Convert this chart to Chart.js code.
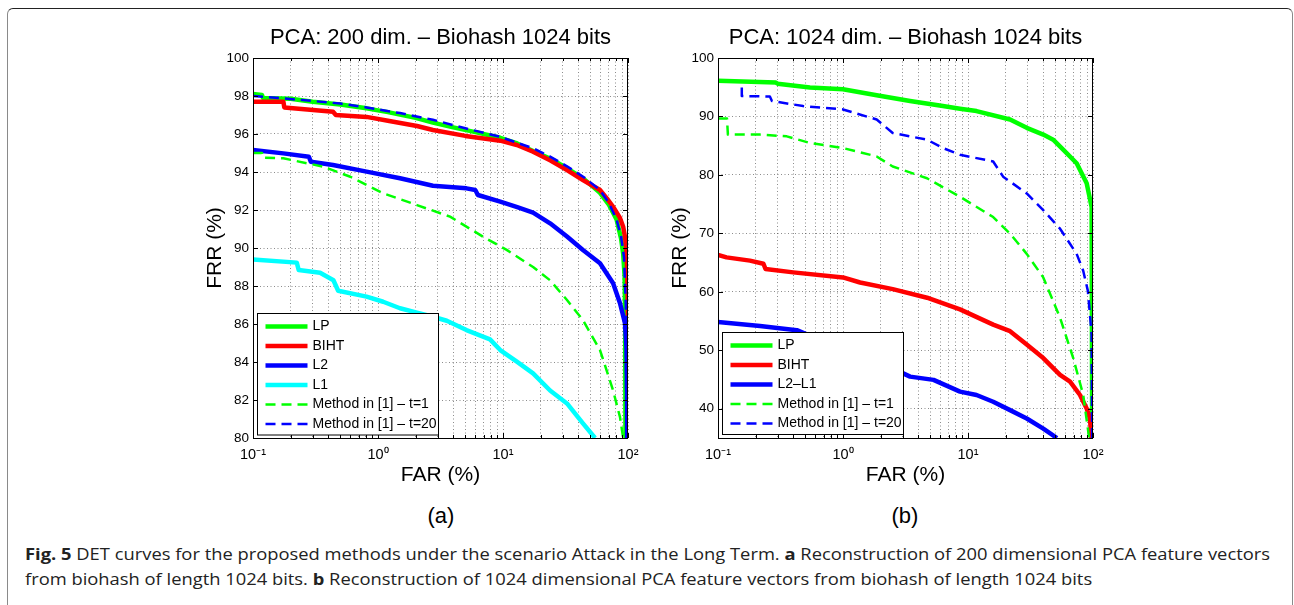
<!DOCTYPE html>
<html>
<head>
<meta charset="utf-8">
<script src="https://cdn.jsdelivr.net/npm/chart.js@4/dist/chart.umd.min.js"></script>
<style>
  body { margin: 0; background: #fff; width: 1294px; height: 605px; overflow: hidden; position: relative; }
  .frame { position: absolute; left: 7px; top: 8px; width: 1286px; height: 700px; box-sizing: border-box;
    border-top: 1.5px solid #222; border-left: 1px solid #8a8a8a; border-right: 1px solid #8a8a8a; border-radius: 6px 6px 0 0; }
  canvas { position: absolute; top: 18px; }
  .sub { position: absolute; top: 503px; width: 100px; text-align: center; font: 22px 'Liberation Sans', Arial, sans-serif; color: #000; }
  .cap { position: absolute; left: 25px; font: 15.5px 'Open Sans', 'Noto Sans', sans-serif; color: #222; white-space: nowrap; transform-origin: 0 50%; line-height: 25px; }
</style>
</head>
<body>
<div class="frame"></div>
<canvas id="chartA" width="470" height="470" style="left:180px"></canvas>
<canvas id="chartB" width="470" height="470" style="left:645px"></canvas>
<div class="sub" style="left:391px">(a)</div>
<div class="sub" style="left:855px">(b)</div>
<div class="cap" id="cap1" style="top:542px"><b>Fig. 5</b> DET curves for the proposed methods under the scenario Attack in the Long Term. <b>a</b> Reconstruction of 200 dimensional PCA feature vectors</div>
<div class="cap" id="cap2" style="top:567px">from biohash of length 1024 bits. <b>b</b> Reconstruction of 1024 dimensional PCA feature vectors from biohash of length 1024 bits</div>
<script>
// DET curves, FAR (%) vs FRR (%), points are [FAR, FRR]

const xTickValues = [0.1, 1, 10, 100];
const xTickText = ['10⁻¹', '10⁰', '10¹', '10²'];

const titleA = 'PCA: 200 dim. – Biohash 1024 bits';
const titleB = 'PCA: 1024 dim. – Biohash 1024 bits';

// panel (a)
const lpA = [[0.1, 98.1], [0.118, 98.05], [0.12, 97.9], [0.2, 97.85], [0.3, 97.7], [0.5, 97.55], [0.81, 97.35], [1.2, 97.15],
  [2.0, 96.85], [2.75, 96.6], [4, 96.35], [6, 96.1], [9.5, 95.8], [13, 95.5], [17.4, 95.1], [24, 94.7], [32.5, 94.2],
  [45, 93.6], [59.7, 92.9], [70, 92.3], [81, 91.5], [88, 90.5], [91.5, 89.7], [94, 88.5], [95, 86], [95.5, 80]];
const bihtA = [[0.1, 97.7], [0.175, 97.7], [0.178, 97.4], [0.437, 97.17], [0.46, 97.0], [0.81, 96.9], [1.2, 96.7], [2.05, 96.42],
  [2.75, 96.21], [5, 95.9], [9.5, 95.65], [12.9, 95.42], [17.4, 95.07], [24, 94.6], [32.5, 94.1], [43.6, 93.58], [59.7, 93.05],
  [68, 92.6], [76, 92.17], [86, 91.6], [91.5, 91.12], [95, 90.5], [97.5, 89.7], [99, 88], [100, 86], [100, 80]];
const l2A = [[0.1, 95.16], [0.175, 94.98], [0.28, 94.8], [0.29, 94.54], [0.437, 94.37], [0.81, 94.02], [1.5, 93.67], [2.75, 93.28],
  [5.1, 93.14], [6.0, 93.05], [6.3, 92.79], [9.5, 92.44], [13, 92.15], [17.4, 91.86], [23.8, 91.3], [32.5, 90.6], [43.6, 89.9],
  [59.7, 89.2], [76, 88.14], [86.3, 87.09], [94.6, 86.04], [97.5, 84.63], [98.5, 82], [98.5, 80]];
const l1A = [[0.1, 89.4], [0.224, 89.23], [0.232, 88.84], [0.344, 88.7], [0.44, 88.3], [0.48, 87.75], [0.81, 87.44], [1.1, 87.17],
  [1.5, 86.83], [2.05, 86.6], [2.75, 86.38], [3.55, 86.17], [5.1, 85.68], [7.87, 85.19], [9.5, 84.63], [12.9, 84.02],
  [17.4, 83.4], [23.8, 82.5], [32.5, 81.82], [43.6, 80.77], [54.5, 80]];
const t1A = [[0.1, 95.0], [0.118, 95.0], [0.12, 94.75], [0.175, 94.72], [0.366, 94.28], [0.6, 93.75], [1.1, 92.88], [2.05, 92.26],
  [3.77, 91.65], [6.9, 90.6], [10.7, 89.9], [17.4, 89.0], [23.8, 88.3], [32.5, 87.26], [43.6, 86.2], [59.7, 84.63],
  [76, 82.5], [86.3, 81.1], [91.5, 80]];
const t20A = [[0.1, 98.0], [0.238, 97.8], [0.5, 97.6], [0.81, 97.4], [1.5, 97.1], [2.75, 96.75], [5, 96.3], [9.5, 95.85],
  [17.4, 95.25], [24, 94.8], [32.5, 94.3], [45, 93.7], [59.7, 93.05], [70, 92.4], [81, 91.5], [88, 90.6], [93, 89.5],
  [96, 87], [97, 80]];

// panel (b)
const lpB = [[0.1, 96.09], [0.29, 95.8], [0.3, 95.6], [0.544, 94.94], [1.0, 94.66], [1.86, 93.62], [3.44, 92.64], [6.3, 91.78],
  [8.63, 91.32], [11.7, 90.92], [21.7, 89.48], [29.5, 88.05], [40, 86.9], [48, 86.03], [58, 84.3], [74, 82.0], [89, 78.57],
  [97.5, 74.5], [98.5, 35]];
const bihtB = [[0.1, 66.33], [0.117, 65.9], [0.18, 65.34], [0.231, 64.8], [0.24, 63.9], [0.4, 63.33], [1.0, 62.47], [1.37, 61.6],
  [2.5, 60.46], [4.7, 59.0], [8.63, 57.0], [15.9, 54.4], [21.7, 53.28], [29.5, 50.98], [40, 48.67], [54.5, 45.8],
  [65.5, 44.65], [78.7, 42.36], [89, 40.05], [94.6, 38.3], [97, 35]];
const l2l1B = [[0.1, 54.83], [0.217, 54.14], [0.427, 53.45], [0.7, 51.5], [1.2, 49], [2.0, 47.2], [3.0, 46.1], [3.44, 45.5],
  [5.3, 44.94], [8.63, 42.93], [11.7, 42.36], [15.9, 41.2], [21.7, 39.77], [29.5, 38.33], [40, 36.6], [51.5, 35]];
const t1B = [[0.1, 89.66], [0.118, 89.66], [0.12, 86.9], [0.217, 86.9], [0.355, 86.6], [0.544, 85.46], [1.0, 84.6], [1.86, 83.16],
  [2.5, 81.44], [4.7, 79.43], [8.63, 76.26], [15.9, 72.8], [21.7, 69.95], [29.5, 66.5], [40, 62.47], [54.5, 55.57],
  [69.5, 48.67], [83.5, 42.36], [91, 36.6], [93, 35]];
const t20B = [[0.155, 94.94], [0.155, 93.5], [0.26, 93.4], [0.27, 92.64], [0.48, 91.78], [1.0, 91.2], [1.86, 89.48], [2.5, 87.18],
  [4.7, 86.03], [6.3, 84.6], [8.63, 83.45], [15.9, 82.3], [19.1, 79.7], [29.5, 76.84], [40, 73.97], [54.5, 70.8],
  [74, 66.5], [83.5, 63.6], [91, 60.17], [97.5, 52.7], [98.5, 35]];

Chart.defaults.font.family = "'Liberation Sans', Arial, sans-serif";
Chart.defaults.color = '#000';

const line = (label, pts, color, dashed) => ({
  label,
  data: pts.map(([x, y]) => ({ x, y })),
  borderColor: color,
  borderWidth: dashed ? 2.5 : 4.5,
  borderDash: dashed ? [10, 6] : [],
  borderCapStyle: 'butt',
  borderJoinStyle: 'round',
  pointRadius: 0,
  tension: 0,
  fill: false,
  clip: 0
});

// matlab draws later lines on top
const stack = (sets) => sets.map((d, i) => ({ ...d, order: sets.length - i }));

// box + inward ticks on all four sides
const axesBox = {
  id: 'axesBox',
  afterDatasetsDraw(chart) {
    const { ctx, chartArea: a, scales: { x, y } } = chart;
    ctx.save();
    ctx.strokeStyle = '#000';
    ctx.lineWidth = 1;
    ctx.beginPath();
    x.ticks.forEach(t => {
      const px = Math.round(x.getPixelForValue(t.value)) + 0.5;
      const len = xTickValues.some(v => Math.abs(v - t.value) < v * 1e-6) ? 5 : 3;
      ctx.moveTo(px, a.bottom); ctx.lineTo(px, a.bottom - len);
      ctx.moveTo(px, a.top); ctx.lineTo(px, a.top + len);
    });
    y.ticks.forEach(t => {
      const py = Math.round(y.getPixelForValue(t.value)) + 0.5;
      ctx.moveTo(a.left, py); ctx.lineTo(a.left + 5, py);
      ctx.moveTo(a.right, py); ctx.lineTo(a.right - 5, py);
    });
    ctx.stroke();
    ctx.strokeRect(Math.round(a.left) + 0.5, Math.round(a.top) + 0.5, Math.round(a.right - a.left) - 1, Math.round(a.bottom - a.top));
    ctx.restore();
  }
};

// legend box inside the plot, bottom left, drawn over the lines
const boxLegend = {
  id: 'boxLegend',
  afterDatasetsDraw(chart, args, opts) {
    const { ctx, chartArea: a } = chart;
    const sets = chart.data.datasets;
    const rowH = 19.5;
    const h = 13 + (sets.length - 1) * rowH + 11;
    const left = Math.round(a.left) + 4.5;
    const top = Math.round(a.bottom - 4 - h) + 0.5;
    ctx.save();
    ctx.fillStyle = '#fff';
    ctx.fillRect(left, top, opts.width, h);
    ctx.strokeStyle = '#000';
    ctx.lineWidth = 1;
    ctx.strokeRect(left, top, opts.width, h);
    ctx.font = "14px 'Liberation Sans', Arial, sans-serif";
    ctx.textBaseline = 'middle';
    ctx.fillStyle = '#000';
    sets.forEach((d, i) => {
      const yy = top + 13 + i * rowH;
      ctx.save();
      ctx.strokeStyle = d.borderColor;
      ctx.lineWidth = d.borderWidth;
      ctx.setLineDash(d.borderDash);
      ctx.beginPath();
      ctx.moveTo(left + 8, yy);
      ctx.lineTo(left + 50, yy);
      ctx.stroke();
      ctx.restore();
      ctx.fillText(d.label, left + 55, yy);
    });
    ctx.restore();
  }
};

const isWholeStep = (v) => {
  const m = v / Math.pow(10, Math.floor(Math.log10(v) + 1e-9));
  return Math.abs(m - Math.round(m)) < 1e-6;
};

const makeChart = (id, title, datasets, yMin, yMax, yStep) => new Chart(document.getElementById(id), {
  type: 'line',
  data: { datasets: stack(datasets) },
  options: {
    responsive: false,
    animation: false,
    devicePixelRatio: 1,
    layout: { padding: { left: 0, right: 22, top: 0, bottom: 0 } },
    plugins: {
      legend: { display: false },
      tooltip: { enabled: false },
      title: {
        display: true, text: title, fullSize: false, color: '#000',
        font: { size: 22, weight: 'normal' }, padding: { top: 7, bottom: 6.6 }
      },
      boxLegend: { width: 181 }
    },
    scales: {
      x: {
        type: 'logarithmic', min: 0.1, max: 100,
        border: { display: false, dash: [1, 2.5] },
        grid: { color: 'rgba(0,0,0,0.45)', drawTicks: false, lineWidth: 1 },
        afterBuildTicks: s => { s.ticks = s.ticks.filter(t => isWholeStep(t.value)); },
        ticks: {
          autoSkip: false, maxRotation: 0, padding: 8, font: { size: 14.5 }, color: '#000',
          callback: (v) => {
            const i = xTickValues.findIndex(t => Math.abs(t - v) < t * 1e-6);
            return i >= 0 ? xTickText[i] : '';
          }
        },
        title: { display: true, text: 'FAR (%)', font: { size: 21 }, color: '#000', padding: { top: 0, bottom: 0 } },
        afterFit: s => { s.height = 50; }
      },
      y: {
        min: yMin, max: yMax,
        border: { display: false, dash: [1, 2.5] },
        grid: { color: 'rgba(0,0,0,0.45)', drawTicks: false, lineWidth: 1 },
        ticks: { stepSize: yStep, includeBounds: false, padding: 4, font: { size: 13.5 }, color: '#000' },
        title: { display: true, text: 'FRR (%)', font: { size: 21 }, color: '#000', padding: { top: 23, bottom: 0 } },
        afterFit: s => { s.width = 73; }
      }
    }
  },
  plugins: [axesBox, boxLegend]
});

makeChart('chartA', titleA, [
  line('LP', lpA, '#00ff00', false),
  line('BIHT', bihtA, '#ff0000', false),
  line('L2', l2A, '#0000ff', false),
  line('L1', l1A, '#00ffff', false),
  line('Method in [1] – t=1', t1A, '#00ff00', true),
  line('Method in [1] – t=20', t20A, '#0000ff', true)
], 80, 100, 2);

makeChart('chartB', titleB, [
  line('LP', lpB, '#00ff00', false),
  line('BIHT', bihtB, '#ff0000', false),
  line('L2–L1', l2l1B, '#0000ff', false),
  line('Method in [1] – t=1', t1B, '#00ff00', true),
  line('Method in [1] – t=20', t20B, '#0000ff', true)
], 35, 100, 10);

// squeeze the caption to the width of the printed one
const cap1 = document.getElementById('cap1');
const k = 1245 / cap1.getBoundingClientRect().width;
['cap1', 'cap2'].forEach(id => { document.getElementById(id).style.transform = `scaleX(${k})`; });
</script>
</body>
</html>
